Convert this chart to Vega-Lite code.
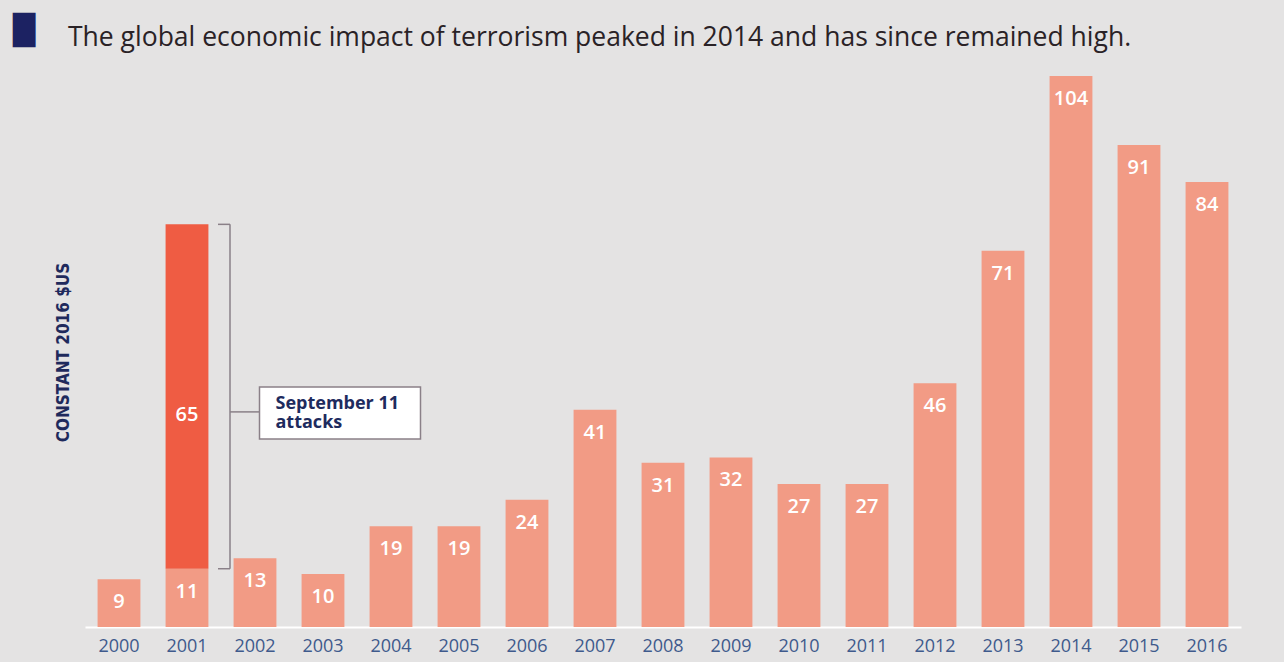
{
  "$schema": "https://vega.github.io/schema/vega-lite/v6.json",
  "width": 1156,
  "height": 551,
  "autosize": {"type": "none"},
  "padding": {"left": 85, "top": 76, "right": 43, "bottom": 35},
  "background": "#e4e3e3",
  "config": {"view": {"stroke": null}},
  "title": {
    "text": "The global economic impact of terrorism peaked in 2014 and has since remained high.",
    "anchor": "start",
    "frame": "group",
    "dx": -17,
    "offset": -55,
    "baseline": "alphabetic",
    "font": "Open Sans",
    "fontSize": 26.5,
    "fontWeight": 400,
    "color": "#2a2226"
  },
  "data": {
    "values": [
      {"year": "2000", "segment": "base", "value": 9},
      {"year": "2001", "segment": "base", "value": 11},
      {"year": "2001", "segment": "attack", "value": 65},
      {"year": "2002", "segment": "base", "value": 13},
      {"year": "2003", "segment": "base", "value": 10},
      {"year": "2004", "segment": "base", "value": 19},
      {"year": "2005", "segment": "base", "value": 19},
      {"year": "2006", "segment": "base", "value": 24},
      {"year": "2007", "segment": "base", "value": 41},
      {"year": "2008", "segment": "base", "value": 31},
      {"year": "2009", "segment": "base", "value": 32},
      {"year": "2010", "segment": "base", "value": 27},
      {"year": "2011", "segment": "base", "value": 27},
      {"year": "2012", "segment": "base", "value": 46},
      {"year": "2013", "segment": "base", "value": 71},
      {"year": "2014", "segment": "base", "value": 104},
      {"year": "2015", "segment": "base", "value": 91},
      {"year": "2016", "segment": "base", "value": 84}
    ]
  },
  "layer": [
    {
      "mark": {"type": "bar"},
      "encoding": {
        "x": {
          "field": "year",
          "type": "ordinal",
          "scale": {"paddingInner": 0.37, "paddingOuter": 0.185},
          "axis": {
            "title": null,
            "orient": "bottom",
            "domainColor": "#ffffff",
            "domainWidth": 2,
            "ticks": false,
            "labelAngle": 0,
            "labelColor": "#3f5a8c",
            "labelFont": "Open Sans",
            "labelFontSize": 18,
            "labelPadding": 10
          }
        },
        "y": {
          "field": "value",
          "type": "quantitative",
          "stack": "zero",
          "scale": {"domain": [0, 104], "nice": false, "zero": true},
          "axis": {
            "title": "CONSTANT 2016 $US",
            "labels": false,
            "ticks": false,
            "domain": false,
            "grid": false,
            "titleFont": "Liberation Sans Narrow, DejaVu Sans Condensed, Roboto",
            "titleFontSize": 17,
            "titleFontWeight": "bold",
            "titleColor": "#1f2a5c",
            "titleAngle": -90,
            "titleX": -22,
            "titleY": 276,
            "titleAlign": "center",
            "titleBaseline": "middle"
          }
        },
        "color": {
          "field": "segment",
          "type": "nominal",
          "scale": {"domain": ["base", "attack"], "range": ["#f29b85", "#ef5c43"]},
          "legend": null
        },
        "order": {"field": "segment", "sort": "descending"}
      }
    },
    {
      "transform": [{"filter": "datum.segment === 'base'"}],
      "mark": {"type": "text", "dy": 23, "baseline": "middle", "align": "center", "color": "#ffffff", "font": "Open Sans", "fontSize": 20, "fontWeight": 600},
      "encoding": {
        "x": {"field": "year", "type": "ordinal"},
        "y": {"field": "value", "type": "quantitative"},
        "text": {"field": "value", "type": "quantitative"}
      }
    },
    {
      "transform": [{"filter": "datum.segment === 'attack'"}],
      "mark": {"type": "text", "dy": 132, "baseline": "middle", "align": "center", "color": "#ffffff", "font": "Open Sans", "fontSize": 20, "fontWeight": 600},
      "encoding": {
        "x": {"field": "year", "type": "ordinal"},
        "y": {"field": "value", "type": "quantitative"},
        "text": {"field": "value", "type": "quantitative"}
      }
    },
    {
      "data": {"values": [{}]},
      "mark": {"type": "rule", "color": "#8a8088", "strokeWidth": 1.5, "xOffset": 43},
      "encoding": {
        "x": {"datum": "2001", "type": "ordinal"},
        "y": {"datum": 11, "type": "quantitative"},
        "y2": {"datum": 76}
      }
    },
    {
      "data": {"values": [{"v": 76}, {"v": 11}]},
      "mark": {"type": "rule", "color": "#8a8088", "strokeWidth": 1.5, "xOffset": 31, "x2Offset": 43},
      "encoding": {
        "x": {"datum": "2001", "type": "ordinal"},
        "x2": {"datum": "2001"},
        "y": {"field": "v", "type": "quantitative"}
      }
    },
    {
      "data": {"values": [{}]},
      "mark": {"type": "rule", "color": "#8a8088", "strokeWidth": 1.5, "xOffset": 43, "x2Offset": 72.5},
      "encoding": {
        "x": {"datum": "2001", "type": "ordinal"},
        "x2": {"datum": "2001"},
        "y": {"datum": 40.6, "type": "quantitative"}
      }
    },
    {
      "data": {"values": [{}]},
      "mark": {"type": "rect", "fill": "#ffffff", "stroke": "#8a8088", "strokeWidth": 1.5, "xOffset": 72.5, "x2Offset": 233.5},
      "encoding": {
        "x": {"datum": "2001", "type": "ordinal"},
        "x2": {"datum": "2001"},
        "y": {"datum": 45.3, "type": "quantitative"},
        "y2": {"datum": 35.5}
      }
    },
    {
      "data": {"values": [{}]},
      "mark": {"type": "text", "text": "September 11\nattacks", "lineBreak": "\n", "dx": 88.5, "dy": -8, "align": "left", "baseline": "middle", "lineHeight": 19, "font": "Open Sans", "fontSize": 18, "fontWeight": "bold", "color": "#1e2b5e"},
      "encoding": {
        "x": {"datum": "2001", "type": "ordinal"},
        "y": {"datum": 40.6, "type": "quantitative"}
      }
    },
    {
      "data": {"values": [{}]},
      "mark": {"type": "text", "text": "█", "dx": -95, "align": "center", "baseline": "middle", "font": "DejaVu Sans", "fontSize": 29, "color": "#1c2262"},
      "encoding": {
        "x": {"datum": "2000", "type": "ordinal"},
        "y": {"datum": 112.4, "type": "quantitative"}
      }
    }
  ]
}
